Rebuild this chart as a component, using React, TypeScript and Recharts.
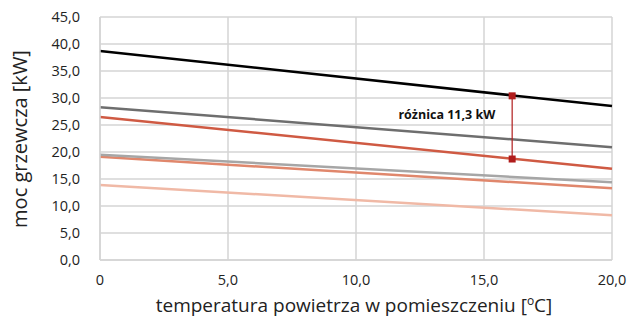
import React from 'react';
import { LineChart, Line, XAxis, YAxis, CartesianGrid, ReferenceDot } from 'recharts';

const temps = [0, 20];
const seriesBlack = [38.7, 28.5];
const seriesDarkGray = [28.3, 20.9];
const seriesRed = [26.5, 16.9];
const seriesLightGray = [19.5, 14.4];
const seriesSalmon = [19.1, 13.3];
const seriesPink = [13.9, 8.3];
const diffX = 16.1;
const diffValues = [30.4, 18.7];
const diffLabel = 'różnica 11,3 kW';
const xTicks = [0, 5, 10, 15, 20];
const yTicks = [0, 5, 10, 15, 20, 25, 30, 35, 40, 45];

const data = temps.map((t, i) => ({
  t,
  a: seriesBlack[i],
  b: seriesDarkGray[i],
  c: seriesRed[i],
  d: seriesLightGray[i],
  e: seriesSalmon[i],
  f: seriesPink[i],
}));
const diffData = diffValues.map((v) => ({ t: diffX, m: v }));

const fmt = (v: number) => v.toFixed(1).replace('.', ',');
const fmtX = (v: number) => (v === 0 ? '0' : v.toFixed(1).replace('.', ','));

const FONT = '"Open Sans", "Noto Sans", sans-serif';

const SquareDot = (props: any) => {
  const { cx, cy } = props;
  if (cx == null || cy == null) return null;
  return <rect x={cx - 3.5} y={cy - 3.5} width={7} height={7} fill="#b01c1c" />;
};

const XLabel = (props: any) => {
  const vb = props.viewBox || {};
  const cx = vb.x + vb.width / 2 - 2;
  return (
    <text x={cx} y={312} textAnchor="middle" fontSize={19} fill="#222" fontFamily={FONT}>
      temperatura powietrza w pomieszczeniu [
      <tspan fontSize={12} dy={-7}>o</tspan>
      <tspan dy={7}>C]</tspan>
    </text>
  );
};

const YLabel = () => (
  <text
    x={0}
    y={0}
    transform="translate(27,139) rotate(-90)"
    textAnchor="middle"
    fontSize={20}
    fill="#222"
    fontFamily={FONT}
  >
    moc grzewcza [kW]
  </text>
);

export default function App() {
  return (
    <div style={{ position: 'absolute', left: 0, top: 0, background: '#fff' }}>
      <LineChart width={627} height={318} data={data} margin={{ top: 17, right: 15, bottom: 0, left: 0 }}>
        <CartesianGrid stroke="#d4d4d4" strokeWidth={1.5} />
        <XAxis
          dataKey="t"
          type="number"
          domain={[0, 20]}
          ticks={xTicks}
          tickFormatter={fmtX}
          height={58}
          axisLine={{ stroke: '#d4d4d4', strokeWidth: 1.5 }}
          tickLine={false}
          tick={{ fontSize: 14.5, fill: '#222', fontFamily: FONT }}
          tickMargin={9}
          label={<XLabel />}
        />
        <YAxis
          type="number"
          domain={[0, 45]}
          ticks={yTicks}
          tickFormatter={fmt}
          width={100}
          axisLine={{ stroke: '#d4d4d4', strokeWidth: 1.5 }}
          tickLine={false}
          tick={{ fontSize: 14.5, fill: '#222', fontFamily: FONT }}
          tickMargin={14}
          label={<YLabel />}
        />
        <Line dataKey="f" stroke="#f0b9a6" strokeWidth={2.5} dot={false} isAnimationActive={false} />
        <Line dataKey="e" stroke="#e0876c" strokeWidth={2.5} dot={false} isAnimationActive={false} />
        <Line dataKey="d" stroke="#a6a6a6" strokeWidth={2.5} dot={false} isAnimationActive={false} />
        <Line dataKey="c" stroke="#cf5a43" strokeWidth={2.5} dot={false} isAnimationActive={false} />
        <Line dataKey="b" stroke="#6e6e6e" strokeWidth={2.5} dot={false} isAnimationActive={false} />
        <Line dataKey="a" stroke="#000000" strokeWidth={2.5} dot={false} isAnimationActive={false} />
        <Line
          data={diffData}
          dataKey="m"
          stroke="#b01c1c"
          strokeWidth={1.2}
          dot={<SquareDot />}
          isAnimationActive={false}
        />
        <ReferenceDot
          x={13.55}
          y={26.85}
          r={0}
          fill="none"
          stroke="none"
          label={{
            value: diffLabel,
            position: 'center',
            style: { fontSize: 12.5, fontWeight: 'bold', fill: '#111', fontFamily: FONT },
          }}
        />
      </LineChart>
    </div>
  );
}
